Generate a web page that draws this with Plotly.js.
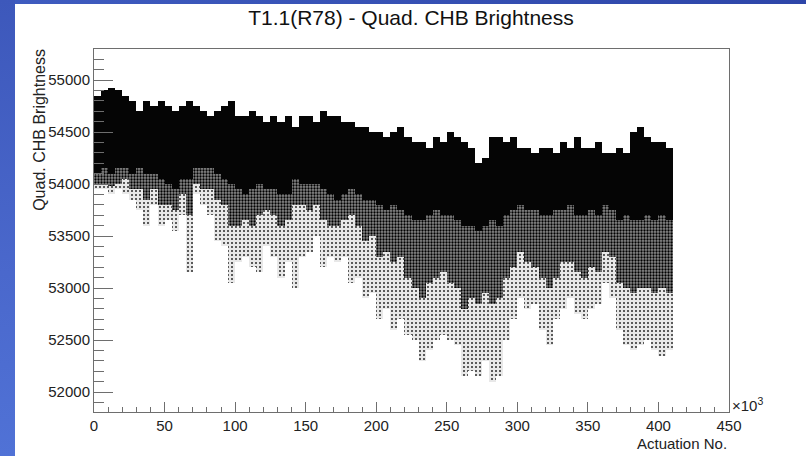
<!DOCTYPE html>
<html>
<head>
<meta charset="utf-8">
<script src="https://cdn.plot.ly/plotly-3.0.1.min.js"></script>
<style>
  html, body { margin:0; padding:0; width:806px; height:456px; overflow:hidden;
    background: linear-gradient(160deg, #3f5cc0 0%, #2d45a8 40%, #1f2f86 100%); }
  #left { position:absolute; left:0; top:0; width:15px; height:456px;
    background: linear-gradient(180deg, #3d58bb 0%, #4a68cc 60%, #5072d6 100%); }
  #chart { position:absolute; left:15px; top:4px; width:791px; height:452px; background:#fff; }
</style>
</head>
<body>
<div id="left"></div>
<div id="chart"></div>
<script>
// Actuation bins (x10^3), 5k wide, centre values
const binCenters = [2.5,7.5,12.5,17.5,22.5,27.5,32.5,37.5,42.5,47.5,52.5,57.5,62.5,67.5,72.5,77.5,82.5,87.5,92.5,97.5,
  102.5,107.5,112.5,117.5,122.5,127.5,132.5,137.5,142.5,147.5,152.5,157.5,162.5,167.5,172.5,177.5,182.5,187.5,192.5,197.5,
  202.5,207.5,212.5,217.5,222.5,227.5,232.5,237.5,242.5,247.5,252.5,257.5,262.5,267.5,272.5,277.5,282.5,287.5,292.5,297.5,
  302.5,307.5,312.5,317.5,322.5,327.5,332.5,337.5,342.5,347.5,352.5,357.5,362.5,367.5,372.5,377.5,382.5,387.5,392.5,397.5,
  402.5,407.5];
// Upper edge of the point cloud
const topVal = [54850,54900,54920,54900,54850,54800,54700,54800,54750,54800,54750,54700,54750,54800,54750,54700,54650,54700,54750,54800,
  54650,54650,54700,54650,54600,54650,54600,54650,54550,54650,54650,54600,54700,54650,54650,54600,54600,54550,54550,54500,
  54500,54450,54500,54550,54450,54400,54400,54350,54450,54400,54500,54450,54400,54350,54200,54250,54450,54450,54400,54450,
  54350,54350,54300,54350,54350,54300,54400,54350,54450,54350,54350,54400,54300,54300,54350,54300,54500,54550,54450,54400,
  54400,54350];
// Lower edge of the dense (black) core
const coreBot = [54100,54150,54100,54150,54150,54100,54150,54100,54100,54050,54000,53950,54050,54050,54150,54150,54150,54100,54050,54000,
  53950,53900,53950,54000,53950,53950,53900,53900,54050,54000,54000,54000,53950,53900,53850,53900,53950,53900,53850,53850,
  53800,53750,53800,53750,53700,53650,53650,53700,53750,53700,53700,53650,53600,53600,53550,53600,53650,53600,53700,53750,
  53800,53750,53750,53700,53700,53750,53750,53800,53700,53700,53750,53700,53800,53750,53650,53700,53650,53650,53700,53650,
  53700,53650];
// Lower edge of the medium-density band
const midBot = [54000,54000,53980,54000,54050,53950,53950,53850,53950,53800,53800,53750,53900,53700,54000,53950,53950,53850,53800,53600,
  53600,53650,53600,53700,53750,53700,53600,53650,53800,53800,53750,53800,53650,53600,53600,53650,53700,53600,53450,53500,
  53300,53350,53250,53300,53100,53000,52900,53050,53100,53150,53050,53000,52800,52900,52850,52950,52850,52900,53100,53200,
  53350,53250,53200,53100,53000,53100,53250,53250,53150,53100,53200,53150,53350,53300,53050,53000,52950,53000,53000,52950,
  53000,52950];
// Lowest scattered points
const minVal = [53950,53950,53900,53950,53900,53850,53750,53600,53800,53600,53650,53550,53700,53150,53900,53800,53700,53450,53400,53050,
  53250,53300,53200,53150,53400,53300,53100,53250,53000,53300,53350,53500,53200,53300,53250,53300,53050,53100,52900,52950,
  52700,52800,52600,52700,52550,52500,52300,52400,52500,52550,52500,52450,52150,52200,52150,52300,52100,52150,52500,52700,
  52900,52800,52850,52600,52450,52700,52800,52900,52750,52700,52800,52850,53050,52900,52600,52450,52400,52450,52500,52400,
  52350,52400];

const xTickVals = [0,50,100,150,200,250,300,350,400,450];
const yTickVals = [52000,52500,53000,53500,54000,54500,55000];

const font = 'Liberation Sans, Arial, Helvetica, sans-serif';

function band(lo, hi, color, pattern) {
  const m = { color: color, line: { width: 0 } };
  if (pattern) m.pattern = pattern;
  return {
    type: 'bar', x: binCenters, base: lo, y: hi.map((h, i) => h - lo[i]),
    width: 5, marker: m, hoverinfo: 'skip', showlegend: false
  };
}

const traces = [
  band(minVal, midBot, '#c8c8c8',
    { shape: '.', fillmode: 'replace', fgcolor: '#2a2a2a', bgcolor: '#e8e8e8', size: 4, solidity: 0.2 }),
  band(midBot, coreBot, '#3c3c3c',
    { shape: '.', fillmode: 'replace', fgcolor: '#000000', bgcolor: '#8a8a8a', size: 3, solidity: 0.45 }),
  band(coreBot, topVal, '#050505')
];

const axisCommon = {
  showgrid: false, zeroline: false, showline: true, linecolor: '#6e6e6e', linewidth: 1,
  mirror: true, ticks: 'inside', tickcolor: '#6e6e6e', tickwidth: 1,
  tickfont: { family: font, size: 15, color: '#222' }
};

const layout = {
  width: 791, height: 452,
  margin: { l: 79, r: 77, t: 45, b: 44 },
  paper_bgcolor: '#ffffff', plot_bgcolor: '#ffffff',
  barmode: 'overlay', bargap: 0,
  title: { text: 'T1.1(R78) - Quad. CHB Brightness', font: { family: font, size: 21, color: '#111' },
    x: 0.5006, xanchor: 'center', xref: 'container', y: 0.969, yanchor: 'middle', yref: 'container' },
  xaxis: Object.assign({}, axisCommon, {
    range: [0, 450], tickvals: xTickVals, ticktext: xTickVals.map(String), ticklen: 10,
    minor: { dtick: 10, ticks: 'inside', ticklen: 5, tickcolor: '#6e6e6e', showgrid: false }
  }),
  yaxis: Object.assign({}, axisCommon, {
    range: [51808, 55298], tickvals: yTickVals, ticktext: yTickVals.map(String), ticklen: 19,
    minor: { dtick: 100, ticks: 'inside', ticklen: 10, tickcolor: '#6e6e6e', showgrid: false }
  }),
  annotations: [
    { text: 'Quad. CHB Brightness', textangle: -90, xref: 'paper', yref: 'paper',
      x: -0.085, y: 1.006, xanchor: 'center', yanchor: 'top', showarrow: false,
      font: { family: font, size: 16, color: '#222' } },
    { text: 'Actuation No.', xref: 'paper', yref: 'paper', x: 1, y: -0.057,
      xanchor: 'right', yanchor: 'top', showarrow: false, font: { family: font, size: 15, color: '#222' } },
    { text: '×10<sup>3</sup>', xref: 'paper', yref: 'paper', x: 1.002, y: -0.012,
      xanchor: 'left', yanchor: 'bottom', showarrow: false, font: { family: font, size: 15, color: '#222' } }
  ]
};

Plotly.newPlot('chart', traces, layout, { staticPlot: true, displayModeBar: false });
</script>
</body>
</html>
